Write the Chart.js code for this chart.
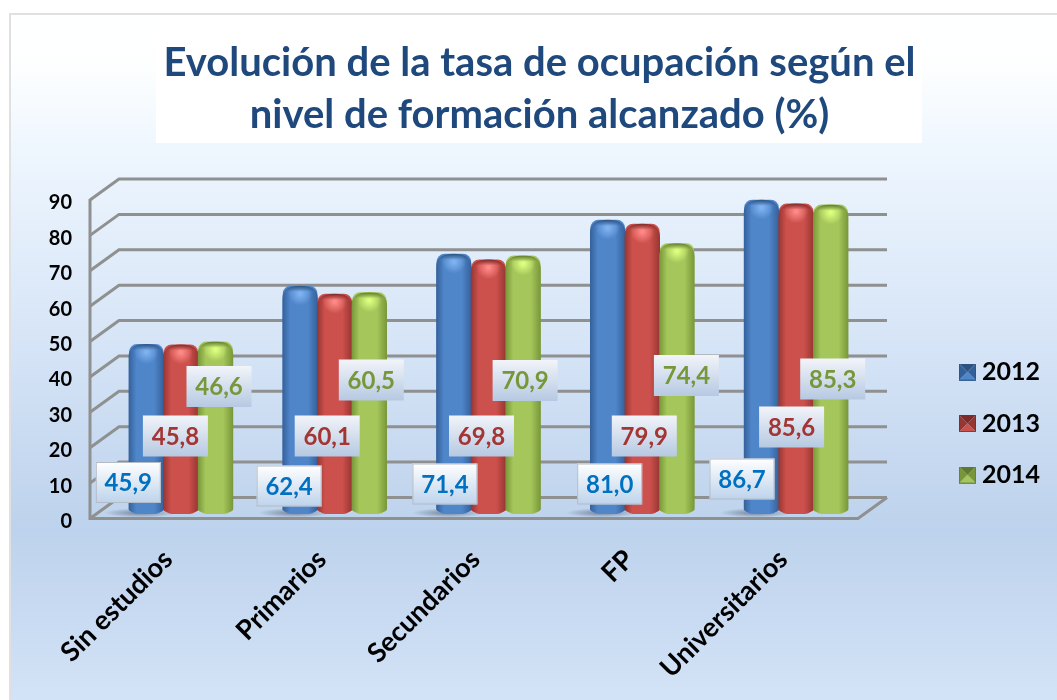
<!DOCTYPE html>
<html><head><meta charset="utf-8">
<style>html,body{margin:0;padding:0;background:#fff}#w{width:1057px;height:700px;position:relative}</style>
<script src="https://cdn.jsdelivr.net/npm/chart.js@4"></script></head>
<body><div id="w"><canvas id="c" width="1057" height="700"></canvas></div>
<script>
const titleLines = ['Evolución de la tasa de ocupación según el','nivel de formación alcanzado (%)'];
const categories = ['Sin estudios','Primarios','Secundarios','FP','Universitarios'];
const seriesNames = ['2012','2013','2014'];
const values2012 = [45.9,62.4,71.4,81.0,86.7];
const values2013 = [45.8,60.1,69.8,79.9,85.6];
const values2014 = [46.6,60.5,70.9,74.4,85.3];

// label placement: pixel nudge from the bar centre, and box centre height
const labelNudgeX = [[-18,-11,-9,2,-19.5],[-5.5,-7.5,-7,2,-4.5],[3.5,2,2,9.5,2]];
const labelCentreY = [[482.5,486,484,484,479],[436,436,436,436,427],[386.5,380,380.5,375.5,379]];
const palettes = [
 {edge:'#34609a',mid:'#4f86ca',glow:'#7fb2f0',dark:'#2c5280',text:'#0070c0',top:'#ffffff',bot:'#bdd3ec',line:'#b4bcc6'},
 {edge:'#963532',mid:'#cc504c',glow:'#ff8a88',dark:'#7d2a28',text:'#a33533',top:'#f2f4f9',bot:'#b6c9e2',line:'rgba(0,0,0,0)'},
 {edge:'#789639',mid:'#a4c65a',glow:'#dcff80',dark:'#5f7a2c',text:'#76973a',top:'#f2f4f9',bot:'#b6c9e2',line:'rgba(0,0,0,0)'}
];
const FONT='Lato, "Open Sans", sans-serif';
const DEPTH_X=29, DEPTH_Y=21, WALL_X=90, FLOOR_RIGHT=858, GRID='#8f9090';

function bevel(p){
  const s=17,c=document.createElement('canvas');c.width=s;c.height=s;const g=c.getContext('2d');
  const tri=(col,a,b)=>{g.fillStyle=col;g.beginPath();g.moveTo(s/2,s/2);g.lineTo(a[0],a[1]);g.lineTo(b[0],b[1]);g.closePath();g.fill();};
  tri(p.dark,[0,0],[s,0]);tri(p.edge,[0,0],[0,s]);tri(p.edge,[s,0],[s,s]);tri(p.mid,[0,s],[s,s]);
  g.strokeStyle=p.dark;g.globalAlpha=.7;g.lineWidth=1;g.strokeRect(.5,.5,s-1,s-1);
  return c;
}
const markers=palettes.map(bevel);

const scenery={id:'scenery',
 beforeDraw(ch){
  const x=ch.ctx;x.save();
  x.fillStyle='#fff';x.fillRect(0,0,1057,700);
  const g=x.createLinearGradient(0,14,0,700);
  g.addColorStop(0,'#ffffff');g.addColorStop(.07,'#fdffff');g.addColorStop(.2,'#eef6fe');
  g.addColorStop(.5,'#d4e3f6');g.addColorStop(.75,'#bdd2ec');g.addColorStop(1,'#d3e3f7');
  x.fillStyle=g;x.fillRect(10,14,1047,686);
  x.strokeStyle='#e0e0e0';x.lineWidth=2;x.beginPath();x.moveTo(10,700);x.lineTo(10,14);x.lineTo(1057,14);x.stroke();
  x.fillStyle='#fff';x.fillRect(156,16,766,127);
  x.restore();
 },
 beforeDatasetsDraw(ch){
  const x=ch.ctx,y=ch.scales.y;x.save();
  x.strokeStyle=GRID;x.lineWidth=3;x.lineCap='butt';x.lineJoin='miter';
  const right=FLOOR_RIGHT+DEPTH_X;
  y.ticks.forEach((t,i)=>{
    const py=y.getPixelForTick(i);
    x.beginPath();x.moveTo(WALL_X,py);x.lineTo(WALL_X+DEPTH_X,py-DEPTH_Y);x.lineTo(right,py-DEPTH_Y);x.stroke();
  });
  const y0=y.getPixelForValue(0),yT=y.getPixelForValue(90);
  x.beginPath();x.moveTo(WALL_X,yT-1);x.lineTo(WALL_X,y0);x.lineTo(FLOOR_RIGHT,y0);x.lineTo(right,y0-DEPTH_Y);x.stroke();
  // soft floor shadow behind each group
  const m=ch.getDatasetMeta(0);
  m.data.forEach(el=>{
    const cx=el.x-6,cy=el.base-1;
    x.save();x.translate(cx,cy);x.scale(1,.13);
    const r=x.createRadialGradient(0,0,2,0,0,36);
    r.addColorStop(0,'rgba(50,60,80,.5)');r.addColorStop(1,'rgba(50,60,80,0)');
    x.fillStyle=r;x.beginPath();x.arc(0,0,36,0,7);x.fill();x.restore();
  });
  x.restore();
 },
 afterDatasetsDraw(ch){
  const x=ch.ctx;x.save();
  ch.data.datasets.forEach((d,s)=>{
    const p=palettes[s];
    ch.getDatasetMeta(s).data.forEach(el=>{
      const w=el.width+.8,l=el.x-w/2,r=el.x+w/2,t=el.y,b=el.base,rx=w/2,cy=13,by=5;
      const path=()=>{x.beginPath();x.moveTo(l,t+cy);
        x.bezierCurveTo(l,t+4,l+6,t,el.x,t);x.bezierCurveTo(r-6,t,r,t+4,r,t+cy);
        x.lineTo(r,b-by);x.ellipse(el.x,b-by,rx,by,0,0,Math.PI);x.closePath();};
      const g=x.createLinearGradient(l,0,r,0);
      g.addColorStop(0,p.edge);g.addColorStop(.22,p.mid);g.addColorStop(.72,p.mid);g.addColorStop(1,p.edge);
      path();x.fillStyle=g;x.fill();
      x.save();path();x.clip();
      const h=x.createRadialGradient(el.x,t+8,1,el.x,t+8,12);
      h.addColorStop(0,p.glow);h.addColorStop(1,p.glow+'00');
      x.fillStyle=h;x.fillRect(l,t,w,22);
      const tb=x.createLinearGradient(0,t,0,t+6);tb.addColorStop(0,p.dark);tb.addColorStop(1,p.dark+'00');
      x.fillStyle=tb;x.fillRect(l,t,w,6);
      x.restore();
    });
  });
  ch.data.datasets.forEach((d,s)=>{
    const p=palettes[s];
    ch.getDatasetMeta(s).data.forEach((el,i)=>{
      const bw=65,bh=41,cx=el.x+labelNudgeX[s][i],cy=labelCentreY[s][i],l=cx-bw/2,t=cy-bh/2;
      const g=x.createLinearGradient(0,t,0,t+bh);g.addColorStop(0,p.top);g.addColorStop(1,p.bot);
      x.fillStyle=g;x.fillRect(l,t,bw,bh);
      x.strokeStyle=p.line;x.lineWidth=1;x.strokeRect(l+.5,t+.5,bw-1,bh-1);
      x.fillStyle=p.text;x.font='bold 24px '+FONT;x.textAlign='center';x.textBaseline='middle';
      x.fillText(d.data[i].toFixed(1).replace('.',','),cx,cy+1);
    });
  });
  x.restore();
 },
 afterLayout(ch){
  const L=ch.legend;L.left=939;L.right=1057;L.top=333;L.bottom=520;
  const T=ch.titleBlock;T.left=0;T.right=1079;
 }
};

new Chart(document.getElementById('c'),{
 type:'bar',
 data:{labels:categories,datasets:[values2012,values2013,values2014].map((v,i)=>({
   label:seriesNames[i],data:v,yAxisID:'yBars',base:-2.1,clip:false,
   backgroundColor:palettes[i].mid,categoryPercentage:.675,barPercentage:1,
   borderRadius:8,borderSkipped:false}))},
 options:{responsive:false,animation:false,devicePixelRatio:1,
  layout:{padding:{left:22,right:73,top:0,bottom:0}},
  plugins:{
   tooltip:{enabled:false},
   title:{display:true,text:titleLines,color:'#1f497d',font:{family:FONT,size:40,weight:'bold',lineHeight:1.3},padding:{top:37.5,bottom:58.5}},
   legend:{position:'right',align:'start',labels:{usePointStyle:true,pointStyleWidth:4,padding:26.5,color:'#000',
     font:{family:FONT,size:25,weight:'bold'},
     generateLabels:()=>seriesNames.map((n,i)=>({text:n,pointStyle:markers[i],datasetIndex:i,hidden:false,fontColor:'#000',lineWidth:0}))}}
  },
  scales:{
   x:{grid:{display:false},border:{display:false},
     ticks:{color:'#000',font:{family:FONT,size:27,weight:'bold'},minRotation:45,maxRotation:45,padding:17,labelOffset:-13,autoSkip:false},
     afterFit:s=>{s.height=181.5;}},
   y:{position:'left',min:0,max:90,grid:{display:false,drawTicks:false},border:{display:false},
     ticks:{stepSize:10,color:'#000',padding:32,labelOffset:3,font:{family:FONT,size:20,weight:'bold'}},
     afterFit:s=>{s.width=82;}},
   yBars:{display:false,min:-3.4,max:86.6}
  }
 },
 plugins:[scenery]
});
</script></body></html>
